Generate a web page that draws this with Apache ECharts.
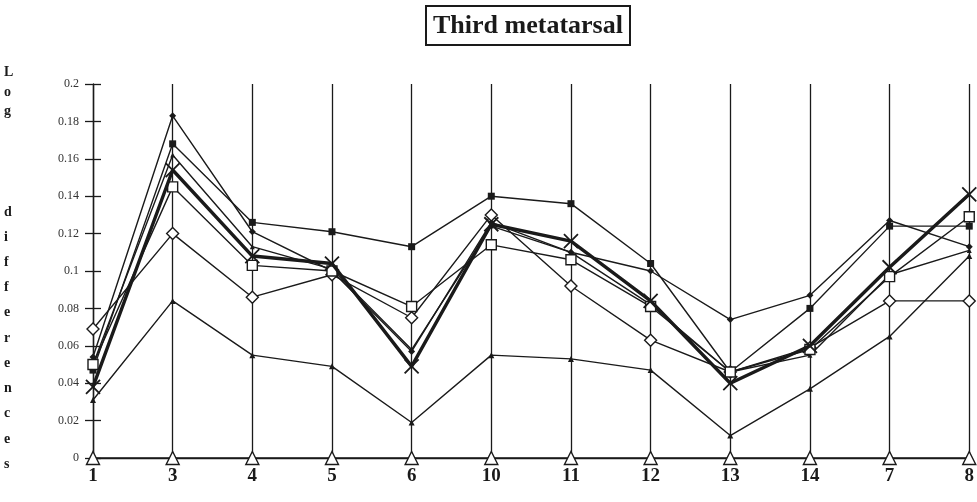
<!DOCTYPE html>
<html>
<head>
<meta charset="utf-8">
<script src="https://cdn.jsdelivr.net/npm/echarts@6/dist/echarts.min.js"></script>
<style>html,body{margin:0;padding:0;background:#fff}#c{width:977px;height:502px}</style>
</head>
<body>
<div id="c"></div>
<script>
var categories = ['1','3','4','5','6','10','11','12','13','14','7','8'];
var yTicks = [0,0.02,0.04,0.06,0.08,0.1,0.12,0.14,0.16,0.18,0.2];
var filledDiamond = [0.054,0.183,0.121,0.100,0.057,0.126,0.110,0.100,0.074,0.087,0.127,0.113];
var filledSquare  = [0.047,0.168,0.126,0.121,0.113,0.140,0.136,0.104,0.046,0.080,0.124,0.124];
var smallTriangle = [0.050,0.162,0.113,0.101,0.058,0.124,0.110,0.082,0.046,0.055,0.098,0.111];
var openSquare    = [0.050,0.145,0.103,0.100,0.081,0.114,0.106,0.081,0.046,0.058,0.097,0.129];
var crossSeries   = [0.038,0.154,0.108,0.104,0.049,0.125,0.116,0.084,0.040,0.060,0.102,0.141];
var openDiamond   = [0.069,0.120,0.086,0.098,0.075,0.130,0.092,0.063,0.046,0.059,0.084,0.084];
var filledTriangle= [0.031,0.084,0.055,0.049,0.019,0.055,0.053,0.047,0.012,0.037,0.065,0.108];
var openTriangle  = [0,0,0,0,0,0,0,0,0,0,0,0];
var yName = ['L','o','g','','','d','i','f','f','e','r','e','n','c','e','s'];

var ink = '#1a1a1a';
var serif = '"Liberation Serif","DejaVu Serif",serif';
function line(data, symbol, size, open, width, z) {
  return {
    type: 'line', data: data, symbol: symbol, symbolSize: size, z: z || 2,
    lineStyle: {color: ink, width: width || 1.4},
    itemStyle: open ? {color: '#fff', borderColor: ink, borderWidth: 1.4} : {color: ink, borderColor: ink, borderWidth: 0},
    emphasis: {disabled: true}, animation: false
  };
}
var xPath = 'path://M0,0L10,10M10,0L0,10';
var graphics = [];
var letterY = [73,93,112,0,0,213,238,263,288,313,339,364,389,414,440,465];
for (var i = 0; i < yName.length; i++) {
  if (!yName[i]) continue;
  graphics.push({type:'text', left: 4, top: letterY[i]-8, style:{text: yName[i], font: 'bold 14px ' + serif, fill: ink}});
}
var chart = echarts.init(document.getElementById('c'), null, {renderer: 'canvas'});
chart.setOption({
  backgroundColor: '#fff',
  animation: false,
  title: {
    text: 'Third metatarsal', left: 426, top: 6,
    borderColor: ink, borderWidth: 2, padding: [7, 7, 6, 7],
    textStyle: {fontFamily: serif, fontWeight: 'bold', fontSize: 26, color: ink}
  },
  grid: {left: 93, right: 7, top: 84, bottom: 44, containLabel: false},
  xAxis: {
    type: 'category', data: categories, boundaryGap: false,
    axisLine: {lineStyle: {color: ink, width: 1.4}},
    axisTick: {show: false},
    axisLabel: {fontFamily: serif, fontWeight: 'bold', fontSize: 19, color: ink, margin: 9, showMaxLabel: true, showMinLabel: true, interval: 0},
    splitLine: {show: true, lineStyle: {color: ink, width: 1.3}}
  },
  yAxis: [{
    type: 'value', min: 0, max: 0.2, interval: 0.02,
    axisLine: {show: true, lineStyle: {color: ink, width: 1.4}},
    axisTick: {show: true, length: 8, lineStyle: {color: ink, width: 1.3}},
    axisLabel: {fontFamily: serif, fontSize: 12, color: '#333', margin: 14,
      formatter: function(v){ return String(+v.toFixed(2)); }},
    splitLine: {show: false}
  }, {
    type: 'value', min: 0, max: 0.2, interval: 0.02, position: 'left',
    axisLine: {show: false},
    axisTick: {show: true, inside: true, length: 8, lineStyle: {color: ink, width: 1.3}},
    axisLabel: {show: false}, splitLine: {show: false}
  }],
  graphic: graphics,
  series: [
    line(openTriangle, 'triangle', 13, true, 1.4, 3),
    line(filledTriangle, 'triangle', 6, false),
    line(openDiamond, 'diamond', 12, true, 1.4, 3),
    line(openSquare, 'rect', 10, true, 1.4, 3),
    line(smallTriangle, 'triangle', 5, false),
    line(filledSquare, 'rect', 7, false),
    line(filledDiamond, 'diamond', 7, false),
    (function(){ var s = line(crossSeries, xPath, 14, false, 3.4, 4);
      s.itemStyle = {color: 'none', borderColor: ink, borderWidth: 1.8}; return s; })()
  ]
});
</script>
</body>
</html>
